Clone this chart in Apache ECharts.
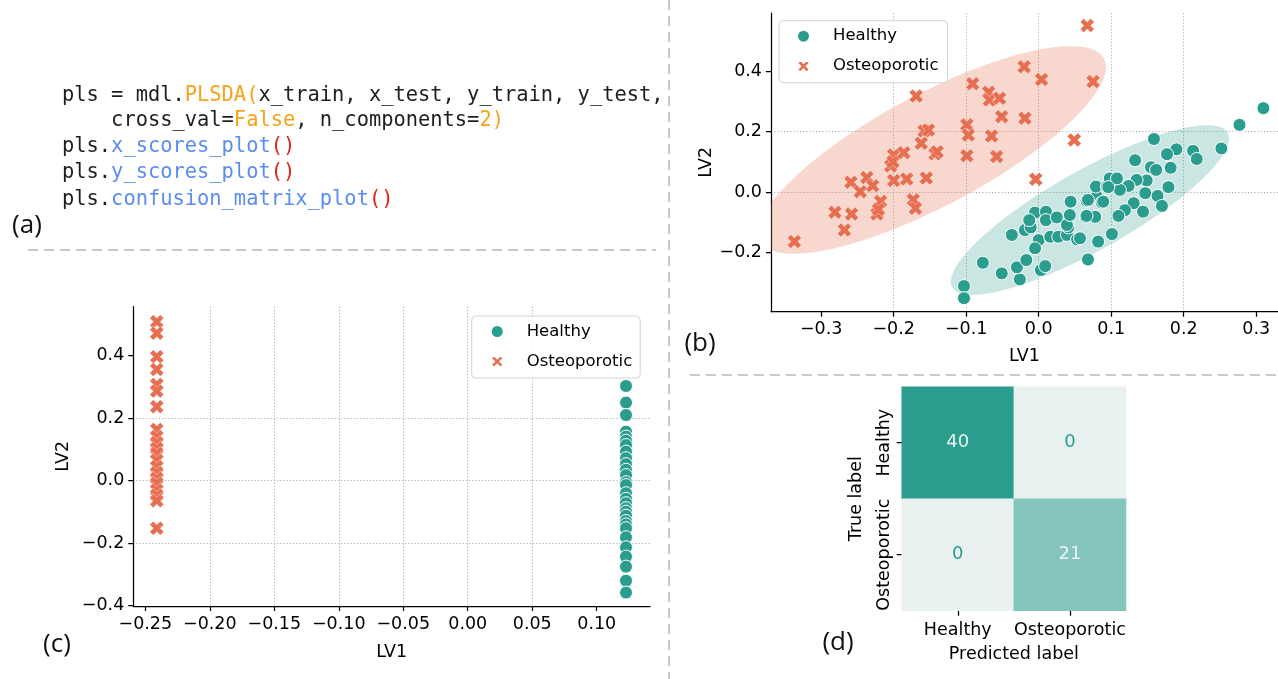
<!DOCTYPE html>
<html>
<head>
<meta charset="utf-8">
<title>PLS-DA results</title>
<script src="https://cdn.jsdelivr.net/npm/echarts@6.0.0/dist/echarts.min.js"></script>
<style>
  html, body { margin: 0; padding: 0; background: #ffffff; }
  #chart { width: 1278px; height: 679px; }
</style>
</head>
<body>
<div id="chart"></div>
<script>
// ---------- (b) X scores: [LV1, LV2] ----------
const xScoresHealthy = [
  [-0.103,-0.311],[-0.103,-0.351],[-0.077,-0.234],[-0.051,-0.269],[-0.026,-0.289],[-0.030,-0.249],
  [-0.017,-0.225],[-0.037,-0.142],[0.003,-0.258],[0.009,-0.245],[-0.019,-0.126],[-0.011,-0.117],
  [-0.005,-0.068],[0.010,-0.065],[0.010,-0.093],[-0.013,-0.093],[0.000,-0.159],[-0.005,-0.186],
  [0.016,-0.148],[0.025,-0.084],[0.027,-0.148],[0.039,-0.142],[0.041,-0.117],[0.039,-0.109],
  [0.043,-0.076],[0.053,-0.157],[0.044,-0.032],[0.066,-0.029],[0.065,-0.082],[0.080,-0.015],
  [0.087,-0.035],[0.078,-0.082],[0.082,-0.164],[0.068,-0.223],[0.079,0.018],[0.094,0.018],
  [0.310,0.277],[0.277,0.222],[0.252,0.144],[0.159,0.175],[0.190,0.141],[0.177,0.125],
  [0.213,0.136],[0.218,0.109],[0.133,0.105],[0.155,0.082],[0.162,0.073],[0.182,0.080],
  [0.149,0.038],[0.135,0.040],[0.179,0.016],[0.147,-0.004],[0.164,-0.013],[0.170,-0.046],
  [0.144,-0.065],[0.131,-0.037],[0.119,-0.060],[0.110,-0.079],[0.101,-0.139],[0.124,0.020],
  [0.112,0.007],[0.098,0.045],[0.108,0.045],[0.096,0.016],[0.068,-0.026],[0.089,-0.032],
  [0.066,-0.079],[0.057,-0.153]
];
const xScoresOsteoporotic = [
  [-0.337,-0.164],[-0.281,-0.067],[-0.268,-0.126],[-0.258,-0.073],[-0.259,0.032],[-0.246,0.001],
  [-0.237,0.048],[-0.229,0.021],[-0.218,-0.031],[-0.223,-0.073],[-0.221,-0.058],[-0.200,0.122],
  [-0.204,0.086],[-0.201,0.100],[-0.200,0.038],[-0.182,0.043],[-0.186,0.130],[-0.173,-0.026],
  [-0.170,-0.054],[-0.169,0.317],[-0.158,0.202],[-0.152,0.205],[-0.162,0.161],[-0.143,0.126],
  [-0.140,0.133],[-0.155,0.046],[-0.099,0.222],[-0.097,0.188],[-0.099,0.120],[-0.091,0.358],
  [-0.069,0.330],[-0.068,0.304],[-0.054,0.310],[-0.051,0.249],[-0.065,0.185],[-0.058,0.117],
  [-0.020,0.414],[-0.019,0.244],[0.004,0.372],[-0.004,0.042],[0.049,0.172],[0.067,0.550],
  [0.075,0.365]
];

// Confidence ellipses: [centre LV1, centre LV2, major semi-axis (LV1, LV2), minor semi-axis (LV1, LV2)]
const ellipseHealthy = [0.0708, -0.0595, 0.190, 0.2555, 0.0270, -0.1154];
const ellipseOsteoporotic = [-0.147, 0.139, 0.237, 0.302, 0.0363, -0.163];

// ---------- (c) Y scores ----------
const yScoreLV1Healthy = 0.1227;
const yScoreLV1Osteoporotic = -0.2411;
const yScoresHealthy = [0.303,0.250,0.210,0.157,0.141,0.128,0.114,0.093,0.072,0.053,0.035,0.018,
  -0.005,-0.014,-0.040,-0.058,-0.072,-0.088,-0.099,-0.112,-0.129,-0.140,-0.152,-0.181,-0.213,
  -0.243,-0.275,-0.320,-0.358];
const yScoresOsteoporotic = [0.509,0.472,0.397,0.356,0.308,0.287,0.237,0.164,0.141,0.122,0.104,
  0.088,0.066,0.045,0.026,0.008,-0.008,-0.030,-0.046,-0.064,-0.152];

// ---------- (d) confusion matrix (rows: true label, columns: predicted label) ----------
const classNames = ['Healthy', 'Osteoporotic'];
const confusionCounts = [[40, 0], [0, 21]];

// ---------- tick values ----------
const ticksB_LV1 = [-0.3, -0.2, -0.1, 0.0, 0.1, 0.2, 0.3];
const ticksB_LV2 = [-0.2, 0.0, 0.2, 0.4];
const ticksC_LV1 = [-0.25, -0.20, -0.15, -0.10, -0.05, 0.00, 0.05, 0.10];
const ticksC_LV2 = [-0.4, -0.2, 0.0, 0.2, 0.4];

// ---------- (a) code listing: [text, style] segments ----------
const codeLines = [
  [['pls = mdl.', 't'], ['PLSDA(', 'o'], ['x_train, x_test, y_train, y_test,', 't']],
  [['    cross_val=', 't'], ['False', 'o'], [', n_components=', 't'], ['2)', 'o']],
  [['pls.', 't'], ['x_scores_plot', 'b'], ['()', 'r']],
  [['pls.', 't'], ['y_scores_plot', 'b'], ['()', 'r']],
  [['pls.', 't'], ['confusion_matrix_plot', 'b'], ['()', 'r']]
];

const FONT = 'DejaVu Sans';
const TEAL = '#2a9d8f';
const CORAL = '#e76f51';
const X_MARK = 'path://M2.5,0L5,2.5L7.5,0L10,2.5L7.5,5L10,7.5L7.5,10L5,7.5L2.5,10L0,7.5L2.5,5L0,2.5Z';

function tickFormatter(decimals) {
  return v => (v < -1e-9 ? '\u2212' : '') + Math.abs(v).toFixed(decimals);
}

function valueAxis(gridIndex, min, max, ticks, decimals, name, nameGap, splitNumber) {
  return {
    type: 'value', gridIndex, min, max, splitNumber,
    name, nameLocation: 'middle', nameGap,
    nameTextStyle: { fontFamily: FONT, fontSize: 17.5, color: '#000' },
    axisLine: { show: true, onZero: false, lineStyle: { color: '#000', width: 1.25 } },
    axisTick: { show: true, length: 5, customValues: ticks, lineStyle: { color: '#000', width: 1.25 } },
    axisLabel: { customValues: ticks, formatter: tickFormatter(decimals), fontFamily: FONT,
                 fontSize: 17.5, color: '#000', margin: 9 },
    splitLine: { show: true, showMinLine: false, showMaxLine: false,
                 lineStyle: { color: '#b0b0b0', width: 1, type: [1.2, 2] } }
  };
}

function ellipseSeries(params, fill, axisIndex) {
  return {
    type: 'custom', xAxisIndex: axisIndex, yAxisIndex: axisIndex, clip: true, z: 1, silent: true,
    data: [params],
    renderItem: (p, api) => {
      const cx = api.value(0), cy = api.value(1);
      const ux = api.value(2), uy = api.value(3), vx = api.value(4), vy = api.value(5);
      const pts = [];
      for (let i = 0; i < 180; i++) {
        const t = i / 180 * Math.PI * 2;
        pts.push(api.coord([cx + ux * Math.cos(t) + vx * Math.sin(t),
                            cy + uy * Math.cos(t) + vy * Math.sin(t)]));
      }
      return { type: 'polygon', shape: { points: pts }, style: { fill } };
    }
  };
}

function scatter(name, data, axisIndex) {
  const healthy = name === 'Healthy';
  return {
    name, type: 'scatter', xAxisIndex: axisIndex, yAxisIndex: axisIndex, data, z: 3,
    symbol: healthy ? 'circle' : X_MARK,
    symbolSize: healthy ? 13 : 14,
    itemStyle: { color: healthy ? TEAL : CORAL, borderColor: '#ffffff', borderWidth: healthy ? 1 : 0.4, opacity: 1 },
    emphasis: { disabled: true }
  };
}

function legendAt(left, top, padding) {
  return {
    orient: 'vertical', left, top, padding,
    itemWidth: 13, itemHeight: 13, itemGap: 13,
    backgroundColor: 'rgba(255,255,255,0.85)', borderColor: '#d3d3d3', borderWidth: 1, borderRadius: 4,
    textStyle: { fontFamily: FONT, fontSize: 16.5, color: '#000', padding: [0, 0, 0, 18], lineHeight: 13 },
    selectedMode: false,
    data: [{ name: 'Healthy', icon: 'circle' }, { name: 'Osteoporotic', icon: X_MARK }]
  };
}

// heatmap cells, annotated with light text on the darker cells
const maxCount = Math.max(...confusionCounts.flat());
const cmCells = [];
confusionCounts.forEach((row, r) => row.forEach((v, c) => {
  cmCells.push({ value: [c, r, v], label: { color: v > maxCount / 2 ? '#eaf3f1' : TEAL } });
}));

const CODE_SIZE = 20.4;
const rich = {
  t: { fill: '#1e1e1e', fontFamily: 'DejaVu Sans Mono', fontSize: CODE_SIZE },
  o: { fill: '#f5a31a', fontFamily: 'DejaVu Sans Mono', fontSize: CODE_SIZE },
  b: { fill: '#5b8dee', fontFamily: 'DejaVu Sans Mono', fontSize: CODE_SIZE },
  r: { fill: '#d9261c', fontFamily: 'DejaVu Sans Mono', fontSize: CODE_SIZE }
};
const codeY = [96, 121, 147, 173, 200];
const codeGraphics = codeLines.map((segs, i) => ({
  type: 'text', x: 62, y: codeY[i],
  style: {
    text: segs.map(([s, k]) => '{' + k + '|' + s + '}').join(''),
    rich, font: CODE_SIZE + 'px "DejaVu Sans Mono"', verticalAlign: 'middle', align: 'left'
  }
}));

const dash = { stroke: '#c8c8c8', lineWidth: 2, lineDash: [10, 6] };
function panelLabel(text, x, y) {
  return { type: 'text', x, y, style: { text, font: '26px "Open Sans"', fill: '#111', align: 'center', verticalAlign: 'middle' } };
}

const catLabel = { fontFamily: FONT, fontSize: 17.5, color: '#000', interval: 0, hideOverlap: false };

const chart = echarts.init(document.getElementById('chart'), null, { renderer: 'canvas' });
chart.setOption({
  animation: false,
  backgroundColor: '#ffffff',
  grid: [
    { left: 771, top: 13, width: 507, height: 298.7, outerBoundsMode: 'none' },
    { left: 133.3, top: 306.7, width: 516.7, height: 299.3, outerBoundsMode: 'none' },
    { left: 901.7, top: 386.7, width: 224.3, height: 224, outerBoundsMode: 'none' }
  ],
  xAxis: [
    valueAxis(0, -0.3692, 0.3301, ticksB_LV1, 1, 'LV1', 36, 7),
    valueAxis(1, -0.2593, 0.1413, ticksC_LV1, 2, 'LV1', 37, 8),
    {
      type: 'category', gridIndex: 2, data: classNames,
      name: 'Predicted label', nameLocation: 'middle', nameGap: 35,
      nameTextStyle: { fontFamily: FONT, fontSize: 17.5, color: '#000' },
      axisLine: { show: false },
      axisTick: { show: true, alignWithLabel: true, interval: 0, length: 5, lineStyle: { color: '#000', width: 1.25 } },
      axisLabel: Object.assign({ margin: 11 }, catLabel),
      splitLine: { show: false }
    }
  ],
  yAxis: [
    valueAxis(0, -0.3957, 0.5917, ticksB_LV2, 1, 'LV2', 56, 5),
    valueAxis(1, -0.401, 0.5568, ticksC_LV2, 1, 'LV2', 61, 5),
    {
      type: 'category', gridIndex: 2, data: classNames, inverse: true,
      name: 'True label', nameLocation: 'middle', nameGap: 36,
      nameTextStyle: { fontFamily: FONT, fontSize: 17.5, color: '#000' },
      axisLine: { show: false },
      axisTick: { show: true, alignWithLabel: true, interval: 0, length: 5, lineStyle: { color: '#000', width: 1.25 } },
      axisLabel: Object.assign({ margin: 8, rotate: 90 }, catLabel),
      splitLine: { show: false }
    }
  ],
  legend: [
    legendAt(779, 20.7, [7, 9, 8, 17]),
    legendAt(471.7, 316, [7, 8, 8, 18])
  ],
  visualMap: {
    type: 'continuous', show: false, min: 0, max: maxCount, seriesIndex: 6,
    inRange: { color: ['#e8f1ef', TEAL] }
  },
  series: [
    ellipseSeries(ellipseOsteoporotic, 'rgba(231,111,81,0.28)', 0),
    ellipseSeries(ellipseHealthy, 'rgba(42,157,143,0.25)', 0),
    scatter('Healthy', xScoresHealthy, 0),
    scatter('Osteoporotic', xScoresOsteoporotic, 0),
    scatter('Healthy', yScoresHealthy.map(v => [yScoreLV1Healthy, v]), 1),
    scatter('Osteoporotic', yScoresOsteoporotic.map(v => [yScoreLV1Osteoporotic, v]), 1),
    {
      type: 'heatmap', xAxisIndex: 2, yAxisIndex: 2, data: cmCells,
      label: { show: true, fontFamily: FONT, fontSize: 18 },
      itemStyle: { borderWidth: 0 },
      emphasis: { disabled: true }
    }
  ],
  graphic: [
    ...codeGraphics,
    { type: 'line', shape: { x1: 28, y1: 250, x2: 656, y2: 250 }, style: dash, silent: true },
    { type: 'line', shape: { x1: 669, y1: 0, x2: 669, y2: 679 }, style: dash, silent: true },
    { type: 'line', shape: { x1: 690, y1: 375, x2: 1278, y2: 375 }, style: dash, silent: true },
    panelLabel('(a)', 27, 226),
    panelLabel('(b)', 700, 344),
    panelLabel('(c)', 57, 645),
    panelLabel('(d)', 838, 643)
  ]
});
</script>
</body>
</html>
